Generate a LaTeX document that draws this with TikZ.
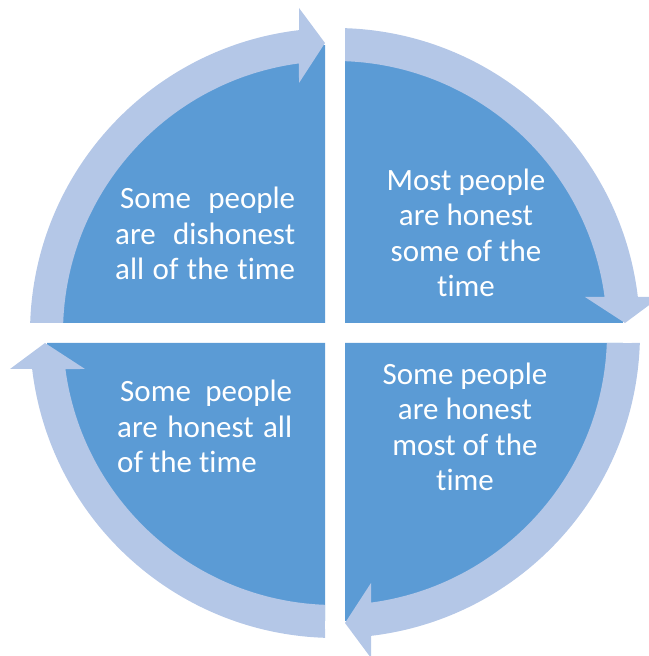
\documentclass[tikz,border=0pt]{standalone}
\usepackage{fontspec}
\setmainfont{Carlito}[Ligatures={NoCommon,NoRare,NoContextual}]
\definecolor{qblue}{RGB}{91,155,213}
\definecolor{ringblue}{RGB}{180,199,231}
\begin{document}
\begin{tikzpicture}[x=1pt,y=1pt,
 quad/.style={fill=qblue},
 band/.style={fill=ringblue},
 lbl/.style={text=white, font=\fontsize{31}{35.5}\selectfont, inner sep=0pt}]
\useasboundingbox (0,0) rectangle (648,656);
\coordinate (C) at (335,323);
\foreach \r in {0,-90,-180,-270}{
 \begin{scope}[shift={(C)}, rotate=\r]
  \fill[quad] (-10,10) -- (91.99:288) arc[start angle=91.99, end angle=178.01, radius=288] -- cycle;
 \end{scope}
}
\foreach \r in {0,-90,-180,-270}{
 \begin{scope}[shift={(C)}, rotate=\r]
  \fill[band] (178.12:305) arc[start angle=178.12, end angle=96.78, radius=305]
    -- (-36,325) -- (-10,290) -- (-36,250)
    -- (97.61:272) arc[start angle=97.61, end angle=177.89, radius=272] -- cycle;
 \end{scope}
}
\node[lbl, align=center, anchor=base] (tr) at (466,359) {Most people\\are honest\\some of the\\time};
\node[lbl, align=center, anchor=base] (br) at (465,165) {Some people\\are honest\\most of the\\time};
\node[lbl, align=left, anchor=base west] (tl) at (115,376) {\hspace{5pt}\makebox[175pt][s]{Some people}\\\makebox[180pt][s]{are dishonest}\\\makebox[180pt][s]{all of the time}};
\node[lbl, align=left, anchor=base west] (bl) at (117,183) {\hspace{3pt}\makebox[172pt][s]{Some people}\\\makebox[175pt][s]{are honest all}\\of the time};
\end{tikzpicture}
\end{document}
